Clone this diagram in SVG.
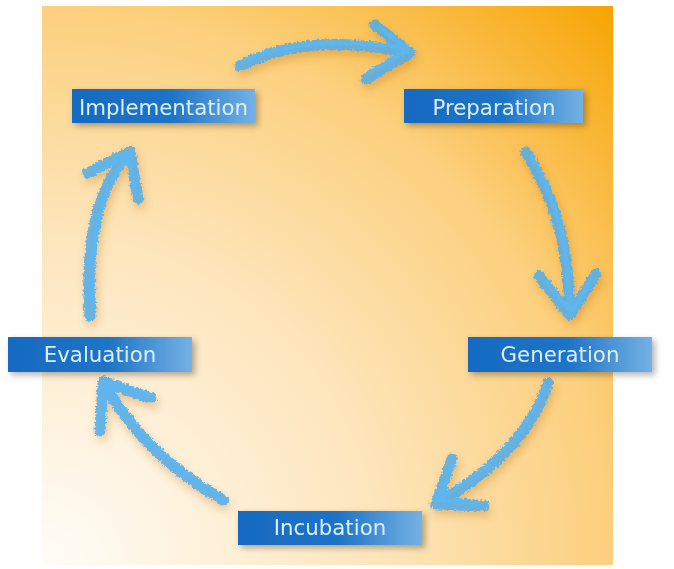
<svg xmlns="http://www.w3.org/2000/svg" width="674" height="569" viewBox="0 0 674 569">
<defs>
<radialGradient id="bg" cx="0" cy="1" r="1.42" fx="0" fy="1" gradientUnits="objectBoundingBox">
<stop offset="0" stop-color="#fffdf9"/>
<stop offset="0.42" stop-color="#fde5bb"/>
<stop offset="0.7" stop-color="#fcd07e"/>
<stop offset="1" stop-color="#f7a300"/>
</radialGradient>
<linearGradient id="box" x1="0" y1="0" x2="1" y2="0">
<stop offset="0" stop-color="#176ac0"/>
<stop offset="0.55" stop-color="#1f74c7"/>
<stop offset="1" stop-color="#74b1e4"/>
</linearGradient>
<filter id="bshadow" x="-10%" y="-30%" width="125%" height="170%">
<feDropShadow dx="3" dy="3" stdDeviation="3" flood-color="#000" flood-opacity="0.3"/>
</filter>
<filter id="brush" x="-20%" y="-20%" width="140%" height="140%">
<feTurbulence type="fractalNoise" baseFrequency="0.4" numOctaves="2" seed="3" result="n"/>
<feDisplacementMap in="SourceGraphic" in2="n" scale="5" xChannelSelector="R" yChannelSelector="G" result="d"/>
<feGaussianBlur in="SourceAlpha" stdDeviation="4" result="b"/>
<feOffset in="b" dx="2" dy="5" result="o"/>
<feFlood flood-color="#b86a00" flood-opacity="0.35"/>
<feComposite in2="o" operator="in" result="s"/>
<feMerge><feMergeNode in="s"/><feMergeNode in="d"/></feMerge>
</filter>
<style>
.lbl{font-family:"DejaVu Sans","Verdana",sans-serif;font-size:21.3px;fill:#d9effb;text-anchor:middle}
.a1{fill:none;stroke:#4fade8;stroke-width:11;stroke-linecap:round;stroke-linejoin:round;opacity:0.85}
.a2{fill:none;stroke:#5db6ee;stroke-width:5;stroke-linecap:round;stroke-linejoin:round}
</style>
</defs>
<rect x="42" y="6" width="571" height="559" fill="url(#bg)"/>
<g id="connectors" filter="url(#brush)">
<g id="arrow-prep">
<path class="a1" d="M240,66 C290,40 350,40 410,53 M375,25 L410,53 L366,79"/>
<path class="a2" d="M244,62 C300,40 350,42 406,50 M380,30 L408,52 L370,74" transform="translate(0,-2)"/>
</g>
<g id="arrow-gen">
<path class="a1" d="M526,152 C555,200 568,240 570,315 M539,276 L570,315 L596,274"/>
<path class="a2" d="M530,156 C556,204 566,244 568,308 M544,282 L569,312 L591,279" transform="translate(2,0)"/>
</g>
<g id="arrow-inc">
<path class="a1" d="M548,383 C530,440 480,480 436,504 M452,459 L436,504 L484,506"/>
<path class="a2" d="M545,388 C526,440 480,478 440,500 M454,466 L439,502 L478,504" transform="translate(-1,-2)"/>
</g>
<g id="arrow-eval">
<path class="a1" d="M223,500 C170,470 130,430 103,382 M100,431 L103,382 L151,398"/>
<path class="a2" d="M218,497 C168,468 132,432 107,388 M102,425 L104,385 L146,398" transform="translate(1,-2)"/>
</g>
<g id="arrow-impl">
<path class="a1" d="M90,316 C85,250 95,190 130,151 M88,173 L130,151 L138,199"/>
<path class="a2" d="M93,310 C88,250 98,192 128,156 M94,172 L128,154 L134,193" transform="translate(1,0)"/>
</g>
</g>
<g id="implementation" filter="url(#bshadow)">
<rect x="72" y="89" width="183" height="34" fill="url(#box)"/>
<text class="lbl" x="163.5" y="114.5">Implementation</text>
</g>
<g id="preparation" filter="url(#bshadow)">
<rect x="404" y="89" width="179" height="34" fill="url(#box)"/>
<text class="lbl" x="494" y="114.5">Preparation</text>
</g>
<g id="evaluation" filter="url(#bshadow)">
<rect x="8" y="337" width="184" height="35" fill="url(#box)"/>
<text class="lbl" x="100" y="362">Evaluation</text>
</g>
<g id="generation" filter="url(#bshadow)">
<rect x="468" y="337" width="184" height="35" fill="url(#box)"/>
<text class="lbl" x="560" y="362">Generation</text>
</g>
<g id="incubation" filter="url(#bshadow)">
<rect x="238" y="511" width="184" height="34" fill="url(#box)"/>
<text class="lbl" x="330" y="535">Incubation</text>
</g>
</svg>
